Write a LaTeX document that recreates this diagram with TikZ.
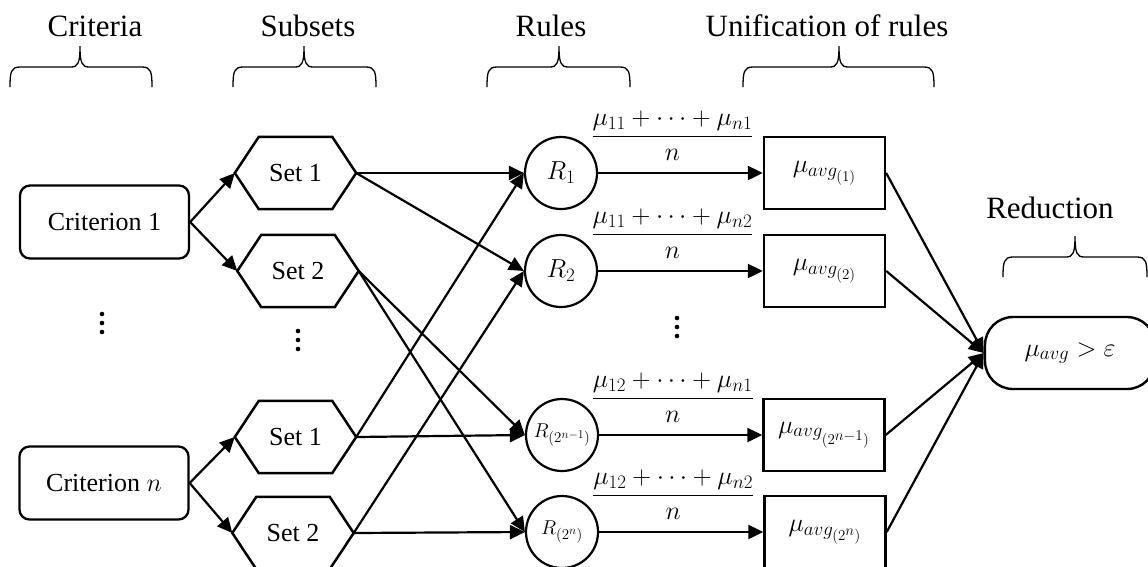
\documentclass[tikz,border=0pt]{standalone}
\usepackage{fix-cm}
\usepackage{amsmath}
\usepackage{fontspec}
\setmainfont{Liberation Serif}
\usetikzlibrary{arrows.meta}
% larger sub- and superscripts at the sizes used below
\DeclareMathSizes{26}{26}{19}{15}
\DeclareMathSizes{20}{20}{15}{12}

\tikzset{
  head/.style={font=\fontsize{31}{36}\selectfont, anchor=base},
  brc/.style={line width=1.3pt},
  crit/.style={draw, line width=2.3pt, rounded corners=10pt, minimum width=169pt, minimum height=73pt},
  subset/.style={minimum width=121pt, minimum height=72pt, inner sep=0pt},
  hexline/.style={line width=2.5pt, line join=miter},
  rule/.style={draw, circle, line width=2.2pt, minimum size=72pt, inner sep=0pt},
  unify/.style={draw, line width=2.4pt, minimum width=121pt, minimum height=72pt, inner sep=0pt},
  reduce/.style={draw, line width=2.4pt, rounded corners=28pt, minimum width=170pt, minimum height=72pt},
  conn/.style={line width=2.2pt, -{Triangle[length=15pt,width=14pt]}},
  frac/.style={midway, above=11pt, inner sep=0pt, xshift=-8pt}
}

\begin{document}
\begin{tikzpicture}[x=1pt,y=-1pt,font=\fontsize{26}{30}\selectfont]
\useasboundingbox (0,0) rectangle (1148,566);

% column headings
\node[head] (hc) at (95,36) {Criteria};
\node[head] (hs) at (308,36) {Subsets};
\node[head] (hr) at (551,36) {Rules};
\node[head] (hu) at (827,36) {Unification of rules};
\node[head] (hd) at (1050,218) {Reduction};

% braces under the headings
\foreach \l/\r/\t/\dy in {10/152/80/0, 233/376/304/0, 487/630/559/0, 743/934/839/0, 1003/1147/1075/190}
  \draw[brc] (\l,87+\dy) .. controls (\l,72+\dy) and (\l+1,67+\dy) .. (\l+10,67+\dy) -- (\t-9,67+\dy)
    .. controls (\t-2,67+\dy) and (\t,63+\dy) .. (\t,46+\dy)
    .. controls (\t,63+\dy) and (\t+2,67+\dy) .. (\t+9,67+\dy) -- (\r-10,67+\dy)
    .. controls (\r-1,67+\dy) and (\r,72+\dy) .. (\r,87+\dy);

% criteria
\node[crit] (c1) at (104.5,222) {Criterion 1};
\node[crit] (cn) at (104,483) {Criterion $n$};

% subsets (hexagons)
\node[subset] (s1) at (295.5,173) {Set 1};
\node[subset] (s2) at (298,271) {Set 2};
\node[subset] (s3) at (295.5,437) {Set 1};
\node[subset] (s4) at (293,533) {Set 2};
\foreach \s in {s1,s2,s3,s4}
  \draw[hexline] (\s.west) -- ([xshift=24pt]\s.north west) -- ([xshift=-24pt]\s.north east) -- (\s.east)
    -- ([xshift=-24pt]\s.south east) -- ([xshift=24pt]\s.south west) -- cycle;

% rules
\node[rule] (r1) at (561,173) {$R_1$};
\node[rule] (r2) at (561,271) {$R_2$};
\node[rule,font=\fontsize{20}{24}\selectfont] (r3) at (562,435) {$R_{(2^{n-1})}$};
\node[rule,font=\fontsize{20}{24}\selectfont] (r4) at (562,532) {$R_{(2^n)}$};

% vertical dots between the rows
\foreach \x/\y in {102/323, 298/340, 677/327}
  \foreach \k in {-1,0,1}
    \fill (\x,\y+9*\k) circle (2.3pt);

% unified rules and reduction
\node[unify] (u1) at (824.5,173) {$\mu_{avg_{(1)}}$};
\node[unify] (u2) at (824.5,271) {$\mu_{avg_{(2)}}$};
\node[unify] (u3) at (824,435) {$\mu_{avg_{(2^{n-1})}}$};
\node[unify] (u4) at (825,532) {$\mu_{avg_{(2^n)}}$};
\node[reduce] (rd) at (1070,353) {$\mu_{avg} > \varepsilon$};

% connections
\foreach \a/\b in {c1/s1, c1/s2, cn/s3, cn/s4, s1/r1, s1/r2, s2/r3, s2/r4, s3/r1, s3/r3, s4/r2, s4/r4}
  \draw[conn] (\a.east) -- (\b.west);
\foreach \r/\u/\num in {r1/u1/{\mu_{11}+\cdots+\mu_{n1}}, r2/u2/{\mu_{11}+\cdots+\mu_{n2}},
    r3/u3/{\mu_{12}+\cdots+\mu_{n1}}, r4/u4/{\mu_{12}+\cdots+\mu_{n2}}}
  \draw[conn] (\r.east) -- (\u.west) node[frac] {$\dfrac{\num}{n}$};
\foreach \u in {u1,u2,u3,u4}
  \draw[conn] (\u.east) -- (rd.west);
\end{tikzpicture}
\end{document}
